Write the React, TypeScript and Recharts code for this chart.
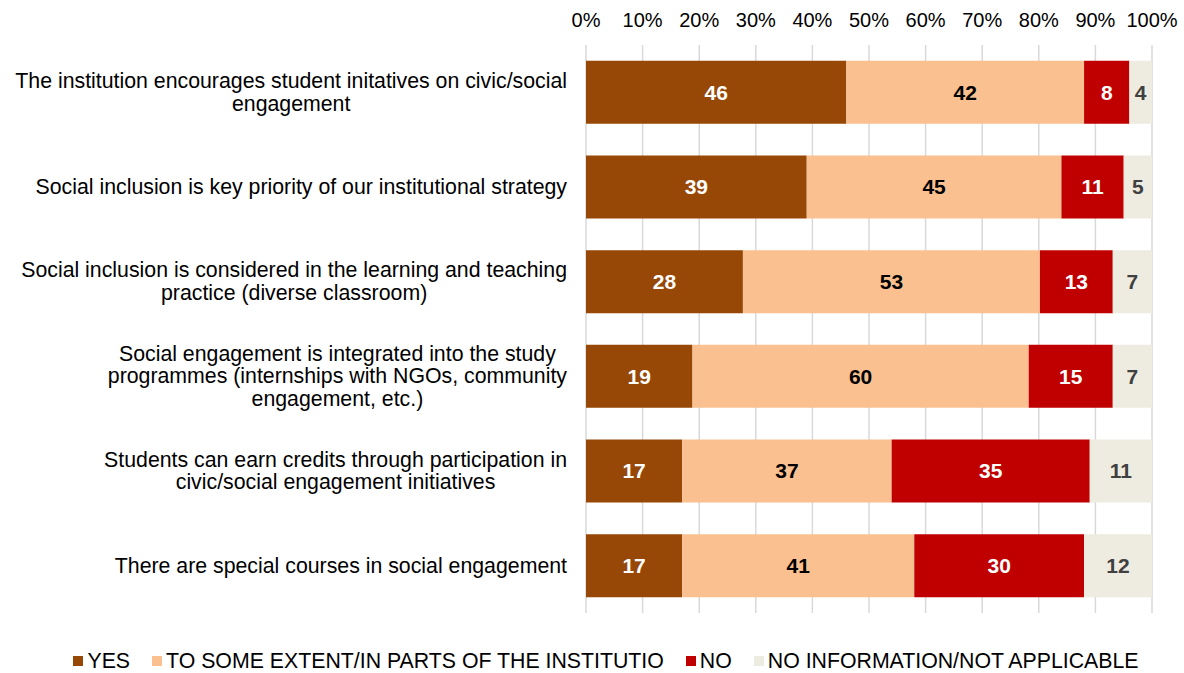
import React from 'react';
import { BarChart, Bar, XAxis, YAxis, CartesianGrid, LabelList, Legend } from 'recharts';

const categories = [
  'The institution encourages student initatives on civic/social\nengagement',
  'Social inclusion is key priority of our institutional strategy',
  'Social inclusion is considered in the learning and teaching\npractice (diverse classroom)',
  'Social engagement is integrated into the study\nprogrammes (internships with NGOs, community\nengagement, etc.)',
  'Students can earn credits through participation in\ncivic/social engagement initiatives',
  'There are special courses in social engagement',
];
const yesValues = [46, 39, 28, 19, 17, 17];
const someValues = [42, 45, 53, 60, 37, 41];
const noValues = [8, 11, 13, 15, 35, 30];
const naValues = [4, 5, 7, 7, 11, 12];
const xTicks = [0, 0.1, 0.2, 0.3, 0.4, 0.5, 0.6, 0.7, 0.8, 0.9, 1];

const seriesNames = ['YES', 'TO SOME EXTENT/IN PARTS OF THE INSTITUTIO', 'NO', 'NO INFORMATION/NOT APPLICABLE'];
const seriesKeys = ['yes', 'some', 'no', 'na'];
const seriesColors = ['#974706', '#FAC090', '#C00000', '#EEECE1'];
const labelColors = ['#FFFFFF', '#000000', '#FFFFFF', '#404040'];

const data = categories.map((c, i) => ({
  category: c,
  yes: yesValues[i],
  some: someValues[i],
  no: noValues[i],
  na: naValues[i],
}));

const FONT = "'Liberation Sans', Arial, sans-serif";
const YFS = 21.3;

let measureCtx: CanvasRenderingContext2D | null = null;
function textWidth(s: string) {
  if (!measureCtx) {
    const c = document.createElement('canvas');
    measureCtx = c.getContext('2d');
  }
  if (!measureCtx) return s.length * 10;
  measureCtx.font = `${YFS}px ${FONT}`;
  return measureCtx.measureText(s).width;
}

const YTick = (props: any) => {
  const { x, y, payload } = props;
  const lines: string[] = String(payload.value).split('\n');
  const lh = 22.5;
  const maxW = Math.max(...lines.map(textWidth));
  const cx = x - maxW / 2;
  const start = y - ((lines.length - 1) * lh) / 2;
  return (
    <g>
      {lines.map((l, i) => (
        <text key={i} x={cx} y={start + i * lh} textAnchor="middle" dominantBaseline="central"
          fontSize={YFS} fontFamily={FONT} fill="#000">
          {l}
        </text>
      ))}
    </g>
  );
};

const XTick = (props: any) => {
  const { x, payload } = props;
  return (
    <text x={x} y={20} textAnchor="middle" dominantBaseline="central" fontSize={20} fontFamily={FONT} fill="#000">
      {`${Math.round(payload.value * 100)}%`}
    </text>
  );
};

const LegendContent = () => (
  <div style={{ display: 'flex', justifyContent: 'center', alignItems: 'center', height: 24, fontFamily: FONT, fontSize: YFS, color: '#000', paddingLeft: 28 }}>
    {seriesNames.map((n, i) => (
      <div key={n} style={{ display: 'flex', alignItems: 'center', marginRight: i < 3 ? 22 : 0 }}>
        <div style={{ width: 10, height: 10, background: seriesColors[i], marginRight: 4 }} />
        <span>{n}</span>
      </div>
    ))}
  </div>
);

export default function App() {
  return (
    <div style={{ position: 'absolute', left: 0, top: 0, width: 1184, height: 673, background: '#fff' }}>
      <BarChart
        width={1184}
        height={673}
        data={data}
        layout="vertical"
        stackOffset="expand"
        barCategoryGap="16.7%"
        margin={{ top: 0, right: 32, bottom: 36, left: 0 }}
      >
        <CartesianGrid horizontal={false} vertical stroke="#D9D9D9" strokeWidth={1.5} />
        <XAxis type="number" orientation="top" domain={[0, 1]} ticks={xTicks} height={45}
          axisLine={false} tickLine={false} tick={<XTick />} interval={0} />
        <YAxis type="category" dataKey="category" width={586} axisLine={false} tickLine={false}
          tickMargin={13} tick={<YTick />} interval={0} />
        <Legend content={<LegendContent />} wrapperStyle={{ top: 649, left: 0, width: 1184, height: 24 }} />
        {seriesKeys.map((k, i) => (
          <Bar key={k} dataKey={k} name={seriesNames[i]} stackId="a" fill={seriesColors[i]} isAnimationActive={false}>
            <LabelList dataKey={k} position="center" fill={labelColors[i]} fontSize={21} fontWeight="bold" fontFamily={FONT} />
          </Bar>
        ))}
      </BarChart>
    </div>
  );
}
